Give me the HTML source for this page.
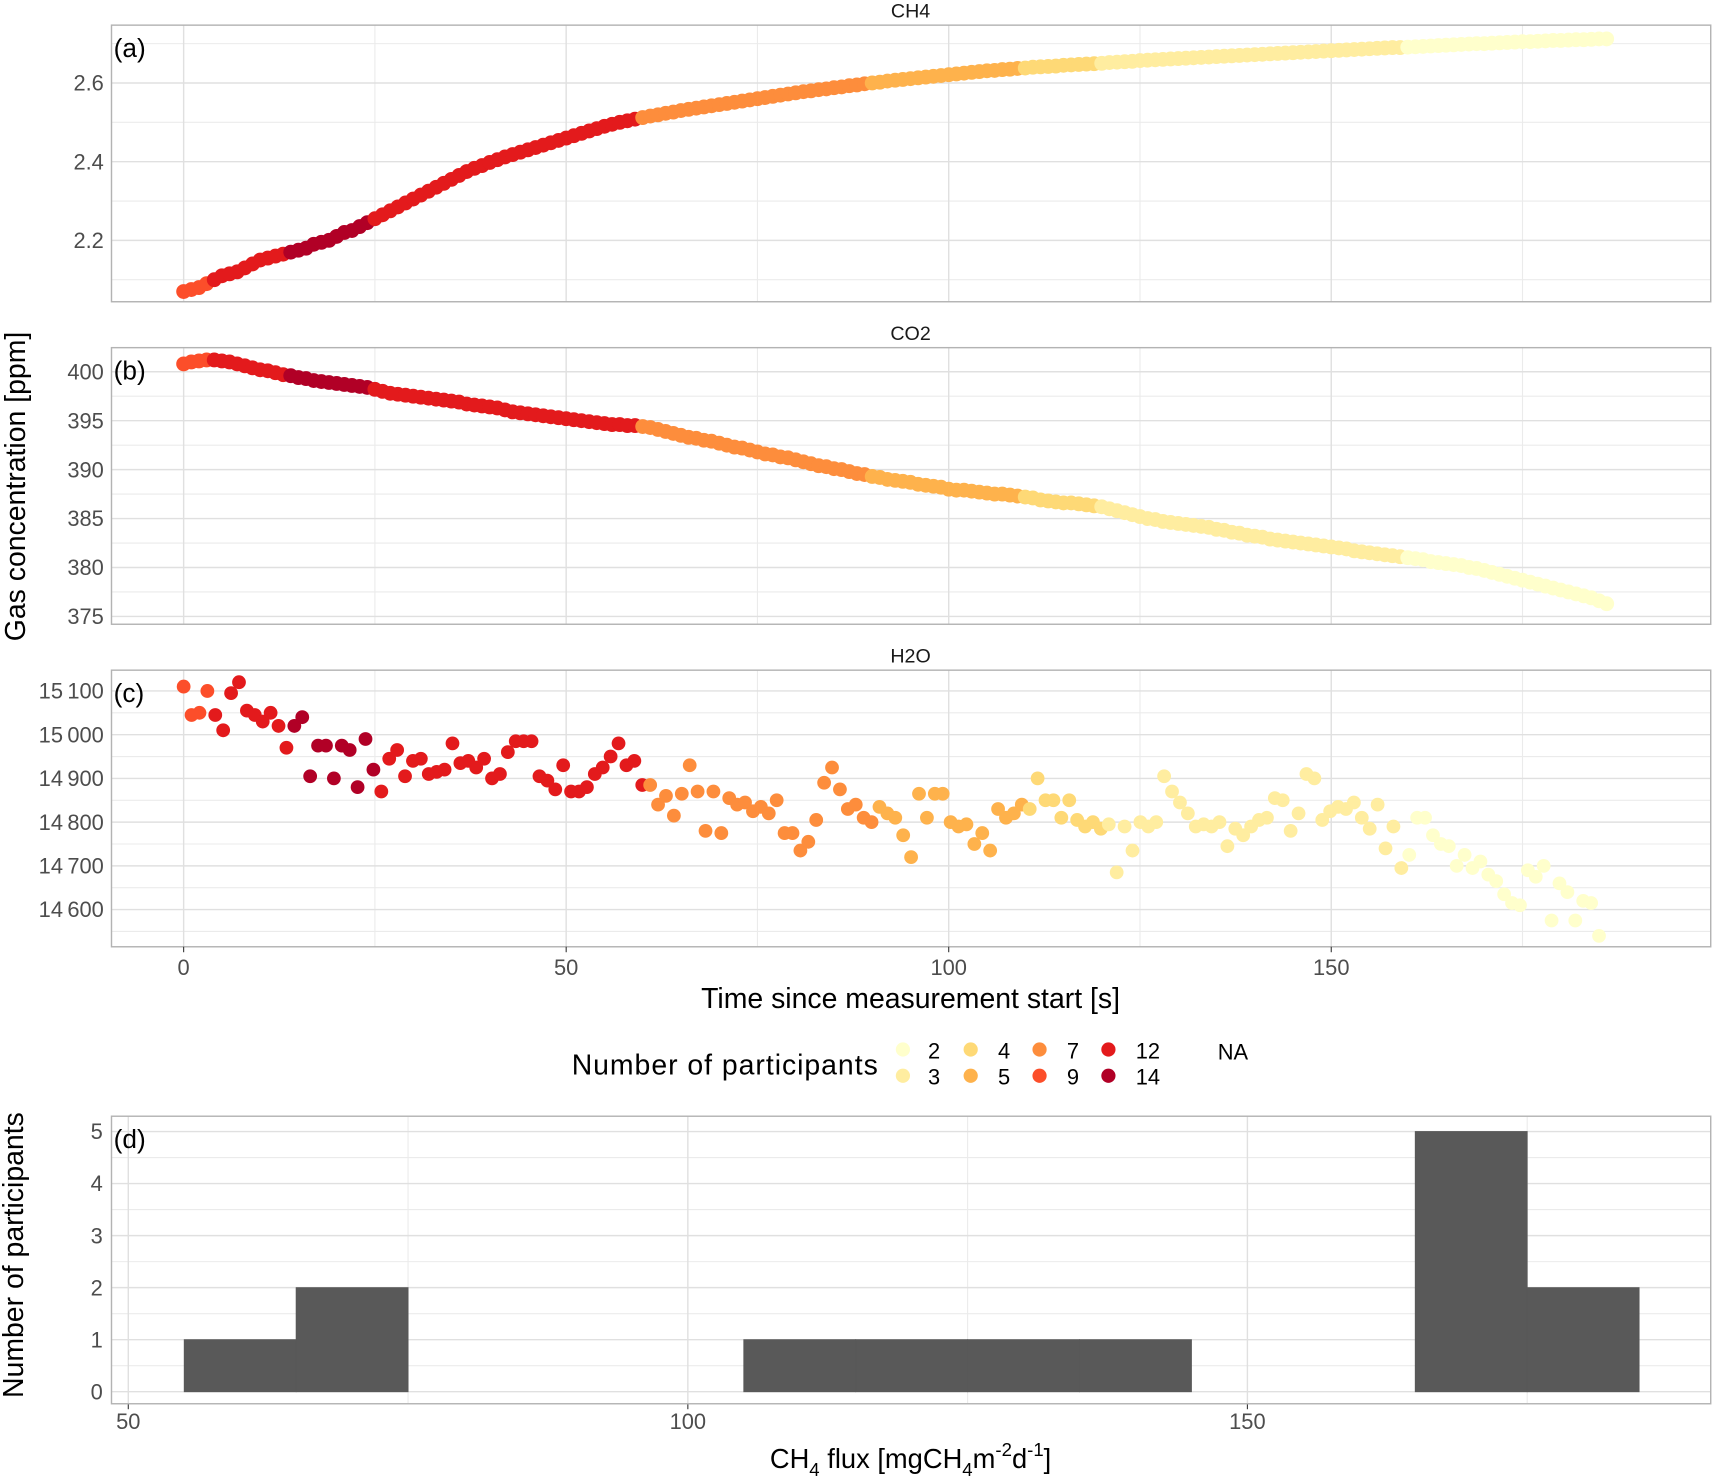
<!DOCTYPE html>
<html><head><meta charset="utf-8"><style>
html,body{margin:0;padding:0;background:#fff;}
svg{display:block;font-family:"Liberation Sans",Arial,sans-serif;}
</style></head><body>
<svg id="chart" width="1714" height="1477" viewBox="0 0 1568 1351" preserveAspectRatio="none" xmlns="http://www.w3.org/2000/svg"></svg>
<script>
// ---------- data ----------
const ch4Values = [2.07,2.075,2.08,2.09,2.10,2.11,2.115,2.12,2.13,2.14,2.15,
2.155,2.16,2.165,2.17,2.175,2.18,2.19,2.195,2.20,2.21,
2.22,2.225,2.235,2.245,2.255,2.265,2.275,2.285,2.295,2.305,
2.315,2.325,2.335,2.345,2.355,2.365,2.375,2.383,2.39,2.398,
2.405,2.412,2.418,2.424,2.43,2.436,2.442,2.448,2.454,2.46,
2.466,2.472,2.478,2.484,2.49,2.495,2.50,2.504,2.508,2.512,
2.516,2.519,2.523,2.526,2.53,2.533,2.536,2.539,2.542,2.545,
2.548,2.551,2.554,2.557,2.56,2.563,2.566,2.569,2.572,2.575,
2.578,2.58,2.583,2.585,2.588,2.59,2.593,2.595,2.598,2.60,
2.602,2.605,2.607,2.609,2.611,2.613,2.615,2.617,2.619,2.621,
2.623,2.625,2.627,2.629,2.631,2.632,2.634,2.635,2.637,2.638,
2.64,2.641,2.642,2.643,2.645,2.646,2.647,2.648,2.649,2.65,
2.652,2.653,2.654,2.655,2.657,2.658,2.659,2.66,2.661,2.662,
2.663,2.664,2.665,2.666,2.667,2.668,2.669,2.67,2.671,2.672,
2.673,2.674,2.675,2.676,2.677,2.678,2.679,2.68,2.681,2.682,
2.683,2.684,2.685,2.686,2.687,2.688,2.689,2.69,2.69,2.691,
2.692,2.693,2.694,2.695,2.696,2.697,2.698,2.699,2.70,2.70,
2.701,2.702,2.703,2.704,2.705,2.705,2.706,2.707,2.708,2.708,
2.709,2.71,2.71,2.711,2.712,2.712];
const co2Values = [400.8,401,401.1,401.2,401.2,401.1,
401,400.8,400.6,400.4,400.2,400.1,399.9,399.7,399.6,
399.4,399.3,399.1,399,398.9,398.8,398.7,398.6,398.5,398.4,398.2,
398.0,397.8,397.7,397.6,397.5,397.4,397.3,397.2,397.1,397,396.9,396.7,396.6,396.5,396.4,
396.3,396.1,395.9,395.8,395.7,395.6,395.5,395.4,395.3,395.2,
395.1,395,394.9,394.8,394.7,394.6,394.6,394.5,394.5,394.4,
394.3,394.1,393.9,393.7,393.5,393.3,393.2,393.0,392.9,392.7,
392.5,392.3,392.2,392.0,391.8,391.6,391.5,391.3,391.2,391.0,
390.8,390.6,390.4,390.3,390.1,390,389.8,389.6,389.5,389.3,
389.2,389,388.9,388.8,388.7,388.5,388.4,388.3,388.2,388.0,
387.9,387.9,387.8,387.7,387.6,387.5,387.5,387.4,387.3,387.2,
387.1,386.9,386.8,386.7,386.6,386.6,386.5,386.4,386.3,386.2,
386,385.8,385.6,385.4,385.2,385,384.9,384.7,384.6,384.5,
384.4,384.3,384.2,384.1,383.9,383.8,383.6,383.5,383.3,383.2,
383.1,382.9,382.8,382.7,382.6,382.5,382.4,382.3,382.2,382.1,
382,381.9,381.7,381.6,381.5,381.4,381.3,381.2,381.1,381.0,
380.9,380.8,380.6,380.5,380.4,380.3,380.2,380.0,379.9,379.7,
379.5,379.3,379.1,378.9,378.7,378.5,378.3,378.1,377.9,377.7,
377.5,377.3,377.1,376.9,376.6,376.3];
const h2oValues = [15110,15045,15050,15100,15045,15010,15095,15120,15055,15045,15030,15050,15020,14970,15020,15040,14905,14975,14975,14900,
14975,14965,14880,14990,14920,14870,14945,14965,14905,14940,14945,14910,14915,14920,14980,14935,14940,14925,14945,14900,
14910,14960,14985,14985,14985,14905,14895,14875,14930,14870,14870,14880,14910,14925,14950,14980,14930,14940,14885,14885,
14840,14860,14815,14865,14930,14870,14780,14870,14775,14855,14840,14845,14825,14835,14820,14850,14775,14775,14735,14755,
14805,14890,14925,14875,14830,14840,14810,14800,14835,14820,14810,14770,14720,14865,14810,14865,14865,14800,14790,14795,
14750,14775,14735,14830,14810,14820,14840,14830,14900,14850,14850,14810,14850,14805,14790,14800,14785,14795,14685,14790,
14735,14800,14790,14800,14905,14870,14845,14820,14790,14795,14790,14800,14745,14785,14770,14790,14805,14810,14855,14850,
14780,14820,14910,14900,14805,14825,14835,14830,14845,14810,14785,14840,14740,14790,14695,14725,14810,14810,14770,14750,
14745,14700,14725,14695,14710,14680,14665,14635,14615,14610,14690,14675,14700,14575,14660,14640,14575,14620,14615,14540];
const groupStart = [0,4,14,25,60,90,110,120,160];
const groupParticipants = [9,12,14,12,7,5,4,3,2];
const legendLevels = [2,3,4,5,7,9,12,14];
const legendColors = ["#FFFFCC","#FFEDA0","#FED976","#FEB24C","#FD8D3C","#FC4E2A","#E31A1C","#B10026"];
const histBinStart = [55,65,75,85,95,105,115,125,135,145,155,165,175];
const histCounts   = [1,2,0,0,0,1,1,1,1,0,0,5,2];
const histBinWidth = 10;
const timeTicks = [0,50,100,150];
const ch4Ticks = [2.2,2.4,2.6];
const co2Ticks = [375,380,385,390,395,400];
const h2oTicks = [14600,14700,14800,14900,15000,15100];
const fluxTicks = [50,100,150];
const countTicks = [0,1,2,3,4,5];

// ---------- helpers ----------
const NS="http://www.w3.org/2000/svg";
const svg=document.getElementById('chart');
function mk(tag,attrs,parent){const e=document.createElementNS(NS,tag);for(const k in attrs)e.setAttribute(k,attrs[k]);(parent||svg).appendChild(e);return e;}
function txt(s,attrs,parent){const e=mk('text',attrs,parent);e.textContent=s;return e;}
const PL=102,PR=1565;
const xT=t=>PL+(t+9.43)*(PR-PL)/(199.6+9.43);
function colorFor(t){let p=groupParticipants[0];for(let i=0;i<groupStart.length;i++){if(t>=groupStart[i])p=groupParticipants[i];}return legendColors[legendLevels.indexOf(p)];}

function panel(name,top,bot,yMin,yMax,ticks,minor,fmt,title,tag,values,times,r){
  const g=mk('g',{});
  
  
  const y=v=>bot-(v-yMin)*(bot-top)/(yMax-yMin);
  minor.forEach(v=>{const l=mk('line',{x1:PL,x2:PR,y1:y(v),y2:y(v),stroke:'#ebebeb','stroke-width':1},g);});
  [25,75,125,175].forEach(v=>{const l=mk('line',{x1:xT(v),x2:xT(v),y1:top,y2:bot,stroke:'#ebebeb','stroke-width':1},g);});
  ticks.forEach(v=>{const l=mk('line',{x1:PL,x2:PR,y1:y(v),y2:y(v),stroke:'#e0e0e0','stroke-width':1.3},g);
    const tl=txt(fmt(v),{x:PL-7,y:y(v)+7,'text-anchor':'end','font-size':20,fill:'#4d4d4d'},g);});
  timeTicks.forEach(v=>{const l=mk('line',{x1:xT(v),x2:xT(v),y1:top,y2:bot,stroke:'#e0e0e0','stroke-width':1.3},g);});
  values.forEach((v,i)=>{const t=times[i];const c=mk('circle',{cx:xT(t),cy:y(v),r:r,fill:colorFor(t)},g);});
  const b=mk('rect',{x:PL,y:top,width:PR-PL,height:bot-top,fill:'none',stroke:'#b3b3b3','stroke-width':1.3},g);
  const ti=txt(title,{x:833,y:top-7,'text-anchor':'middle','font-size':18,fill:'#1a1a1a'},g);
  const tg=txt(tag,{x:104,y:top+29,'font-size':24,fill:'#000'},g);
}
const tGas=ch4Values.map((_,i)=>i);
const tH2O=h2oValues.map((_,i)=>i*185/(h2oValues.length-1));
panel('ch4',23,276,2.044,2.747,ch4Ticks,[2.1,2.3,2.5,2.7],v=>v.toFixed(1),'CH4','(a)',ch4Values,tGas,6.8);
panel('co2',318,571,374.2,402.46,co2Ticks,[377.5,382.5,387.5,392.5,397.5],v=>String(v),'CO2','(b)',co2Values,tGas,6.8);
panel('h2o',613,866,14515,15147.5,h2oTicks,[14550,14650,14750,14850,14950,15050],v=>String(v).slice(0,2)+'\u2009'+String(v).slice(2),'H2O','(c)',h2oValues,tH2O,6.3);

timeTicks.forEach(v=>{const l=mk('line',{x1:xT(v),x2:xT(v),y1:866,y2:871,stroke:'#333','stroke-width':1});
  const t=txt(String(v),{x:xT(v),y:892,'text-anchor':'middle','font-size':20,fill:'#4d4d4d'});});
</script>
<script>
(function(){
const NS="http://www.w3.org/2000/svg";const svg=document.getElementById('chart');
function mk(tag,attrs,parent){const e=document.createElementNS(NS,tag);for(const k in attrs)e.setAttribute(k,attrs[k]);(parent||svg).appendChild(e);return e;}
function txt(s,attrs,parent){const e=mk('text',attrs,parent);e.textContent=s;return e;}
let e;
e=txt('Time since measurement start [s]',{x:833,y:922,'text-anchor':'middle','font-size':26,fill:'#000'});

e=txt('Gas concentration [ppm]',{x:0,y:0,'text-anchor':'middle','font-size':26,fill:'#000',transform:'translate(23,445) rotate(-90)'});

// legend
const lg=mk('g',{});
e=txt('Number of participants',{x:523,y:983,'font-size':26,fill:'#000','textLength':280},lg);

const colX=[826,888,951,1014],labX=[849,913,976,1039];
legendLevels.forEach((lv,i)=>{const col=Math.floor(i/2),row=i%2;const cy=960+row*24;
  const c=mk('circle',{cx:colX[col],cy:cy,r:6.5,fill:legendColors[i]},lg);
  const t=txt(String(lv),{x:labX[col],y:cy+8,'font-size':20,fill:'#000'},lg);});
e=txt('NA',{x:1114,y:969,'font-size':20,fill:'#000'},lg);
// histogram
const PL=102,PR=1565,top=1021,bot=1284;
const xF=v=>PL+(v-48.5)*(PR-PL)/(191.4-48.5);
const yC=v=>1273-v*(1273-1035)/5;
const hg=mk('g',{});
[0.5,1.5,2.5,3.5,4.5].forEach(v=>{const l=mk('line',{x1:PL,x2:PR,y1:yC(v),y2:yC(v),stroke:'#ebebeb','stroke-width':1},hg);});
[75,125,175].forEach(v=>{const l=mk('line',{x1:xF(v),x2:xF(v),y1:top,y2:bot,stroke:'#ebebeb','stroke-width':1},hg);});
countTicks.forEach(v=>{const l=mk('line',{x1:PL,x2:PR,y1:yC(v),y2:yC(v),stroke:'#e0e0e0','stroke-width':1.3},hg);
  const t=txt(String(v),{x:PL-8,y:yC(v)+7,'text-anchor':'end','font-size':20,fill:'#4d4d4d'},hg);});
fluxTicks.forEach(v=>{const l=mk('line',{x1:xF(v),x2:xF(v),y1:top,y2:bot,stroke:'#e0e0e0','stroke-width':1.3},hg);
  const tk=mk('line',{x1:xF(v),x2:xF(v),y1:bot,y2:bot+5,stroke:'#333','stroke-width':1},hg);
  const t=txt(String(v),{x:xF(v),y:bot+23,'text-anchor':'middle','font-size':20,fill:'#4d4d4d'},hg);});
histBinStart.forEach((s,i)=>{if(!histCounts[i])return;const x0=xF(s),x1=xF(s+histBinWidth);
  const r=mk('rect',{x:x0,y:yC(histCounts[i]),width:x1-x0,height:yC(0)-yC(histCounts[i]),fill:'#595959',stroke:'#595959','stroke-width':0.8},hg);});
e=mk('rect',{x:PL,y:top,width:PR-PL,height:bot-top,fill:'none',stroke:'#b3b3b3','stroke-width':1.3},hg);
e=txt('(d)',{x:104,y:top+29,'font-size':24,fill:'#000'},hg);
e=txt('Number of participants',{x:0,y:0,'text-anchor':'middle','font-size':26,fill:'#000',transform:'translate(21,1148) rotate(-90)'});

const xt=mk('text',{x:833,y:1343,'text-anchor':'middle','font-size':25,fill:'#000'});

const parts=[['CH',0],['4',-7],[' flux [mgCH',0],['4',-7],['m',0],['-2',11],['d',0],['-1',11],[']',0]];
parts.forEach(p=>{const ts=document.createElementNS(NS,'tspan');ts.textContent=p[0];
  if(p[1]!==0){ts.setAttribute('font-size','17');ts.setAttribute('baseline-shift',String(p[1]));}
  xt.appendChild(ts);
});
})();
</script>
</body></html>
